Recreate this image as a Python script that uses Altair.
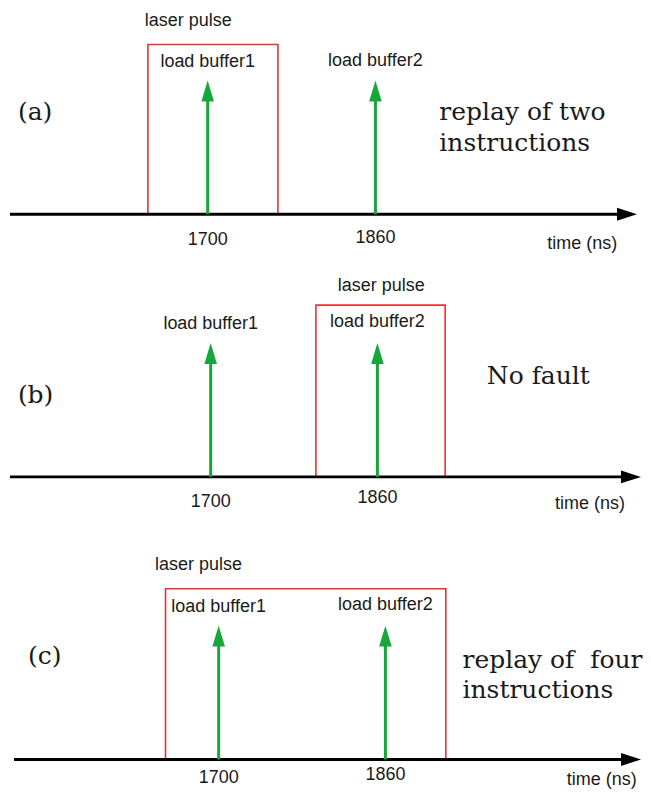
import altair as alt
import pandas as pd

# ---- data ----
panel_tags = ["(a)", "(b)", "(c)"]
event_times = [1700, 1860]                      # ns
event_labels = ["load buffer1", "load buffer2"]
tick_labels = ["1700", "1860"]
pulse_start = [1643, 1801, 1649]               # ns
pulse_end = [1767, 1925, 1918]                 # ns
notes = [["replay of two", "instructions"], ["No fault"], ["replay of\u00a0 four", "instructions"]]
axis_title = "time (ns)"
pulse_title = "laser pulse"

# ---- layout (x in ns, y in px above the time axis) ----
W = 635
heights = [258, 264, 259]
x_domains = [[1509.52, 2114.29], [1505.51, 2113.89], [1497.84, 2106.23]]
y_domains = [[-52, 206], [-53, 211], [-29, 230]]
axis_start = [1511.4, 1507.4, 1503.6]
axis_end = [2109.5, 2112.9, 2105.3]
arrow_tip = 134
pulse_top = [170, 172, 171]
pulse_title_pos = [(1640, 189), (1822, 186), (1639, 190)]
event_label_y = [[148, 149], [148, 150], [148, 150]]
tick_label_y = [[-31, -29], [-30, -26], [-24, -21]]
tag_pos = [(1519, 94), (1515, 74), (1517, 96)]
note_pos = [(1921, [94, 63]), (1965, [93]), (1934, [92, 62])]
axis_title_pos = [(2024, -35), (2030.5, -32), (2034, -26)]

RED = "#ee3030"
GREEN = "#17a63a"
SANS = "Liberation Sans"
SERIF = "DejaVu Serif"
TXT = "#1a1a1a"


def panel(i):
    xs = alt.Scale(domain=x_domains[i], nice=False, zero=False)
    ys = alt.Scale(domain=y_domains[i], nice=False, zero=False)
    X = lambda f: alt.X(f, type="quantitative", scale=xs, axis=None)
    Y = lambda f: alt.Y(f, type="quantitative", scale=ys, axis=None)

    box_df = pd.DataFrame({"x": [pulse_start[i]], "x2": [pulse_end[i]], "y": [0], "y2": [pulse_top[i]]})
    box = alt.Chart(box_df).mark_rect(filled=False, stroke=RED, strokeWidth=1.6).encode(
        x=X("x"), x2="x2", y=Y("y"), y2="y2")

    ax_df = pd.DataFrame({"x": [axis_start[i]], "x2": [axis_end[i] - 12], "y": [0]})
    axis_line = alt.Chart(ax_df).mark_rule(color="black", strokeWidth=3).encode(
        x=X("x"), x2="x2", y=Y("y"))
    head_df = pd.DataFrame({"x": [axis_end[i]], "y": [0]})
    axis_head = alt.Chart(head_df).mark_point(
        shape="M0,0 L-2,-0.65 L-2,0.65 Z", size=400, filled=True, color="black",
        strokeWidth=0, opacity=1).encode(x=X("x"), y=Y("y"))

    ev_df = pd.DataFrame({"t": event_times, "y": [0, 0], "y2": [arrow_tip - 20] * 2,
                          "tip": [arrow_tip] * 2, "label": event_labels,
                          "ly": event_label_y[i], "tick": tick_labels, "ty": tick_label_y[i]})
    shafts = alt.Chart(ev_df).mark_rule(color=GREEN, strokeWidth=3).encode(
        x=X("t"), y=Y("y"), y2="y2")
    heads = alt.Chart(ev_df).mark_point(
        shape="M0,0 L0.6,2 L-0.6,2 Z", size=441, filled=True, color=GREEN,
        strokeWidth=0, opacity=1).encode(x=X("t"), y=Y("tip"))
    ev_text = alt.Chart(ev_df).mark_text(font=SANS, fontSize=18, color=TXT,
                                         align="center", baseline="alphabetic").encode(
        x=X("t"), y=Y("ly"), text="label")
    tick_text = alt.Chart(ev_df).mark_text(font=SANS, fontSize=18, color=TXT,
                                           align="center", baseline="alphabetic").encode(
        x=X("t"), y=Y("ty"), text="tick")

    sans_df = pd.DataFrame({"x": [pulse_title_pos[i][0], axis_title_pos[i][0]],
                            "y": [pulse_title_pos[i][1], axis_title_pos[i][1]],
                            "text": [pulse_title, axis_title]})
    sans_text = alt.Chart(sans_df).mark_text(font=SANS, fontSize=18, color=TXT,
                                             align="left", baseline="alphabetic").encode(
        x=X("x"), y=Y("y"), text="text")

    nx, nys = note_pos[i]
    serif_df = pd.DataFrame({"x": [tag_pos[i][0]] + [nx] * len(nys),
                             "y": [tag_pos[i][1]] + nys,
                             "text": [panel_tags[i]] + notes[i]})
    serif_text = alt.Chart(serif_df).mark_text(font=SERIF, fontSize=25, color=TXT,
                                               align="left", baseline="alphabetic").encode(
        x=X("x"), y=Y("y"), text="text")

    return alt.layer(box, axis_line, axis_head, shafts, heads, ev_text, tick_text,
                     sans_text, serif_text).properties(width=W, height=heights[i])


chart = alt.vconcat(panel(0), panel(1), panel(2), spacing=0).properties(
    padding=0
).configure_view(stroke=None)

chart.save("out.html", embed_options={"renderer": "svg", "actions": False})
